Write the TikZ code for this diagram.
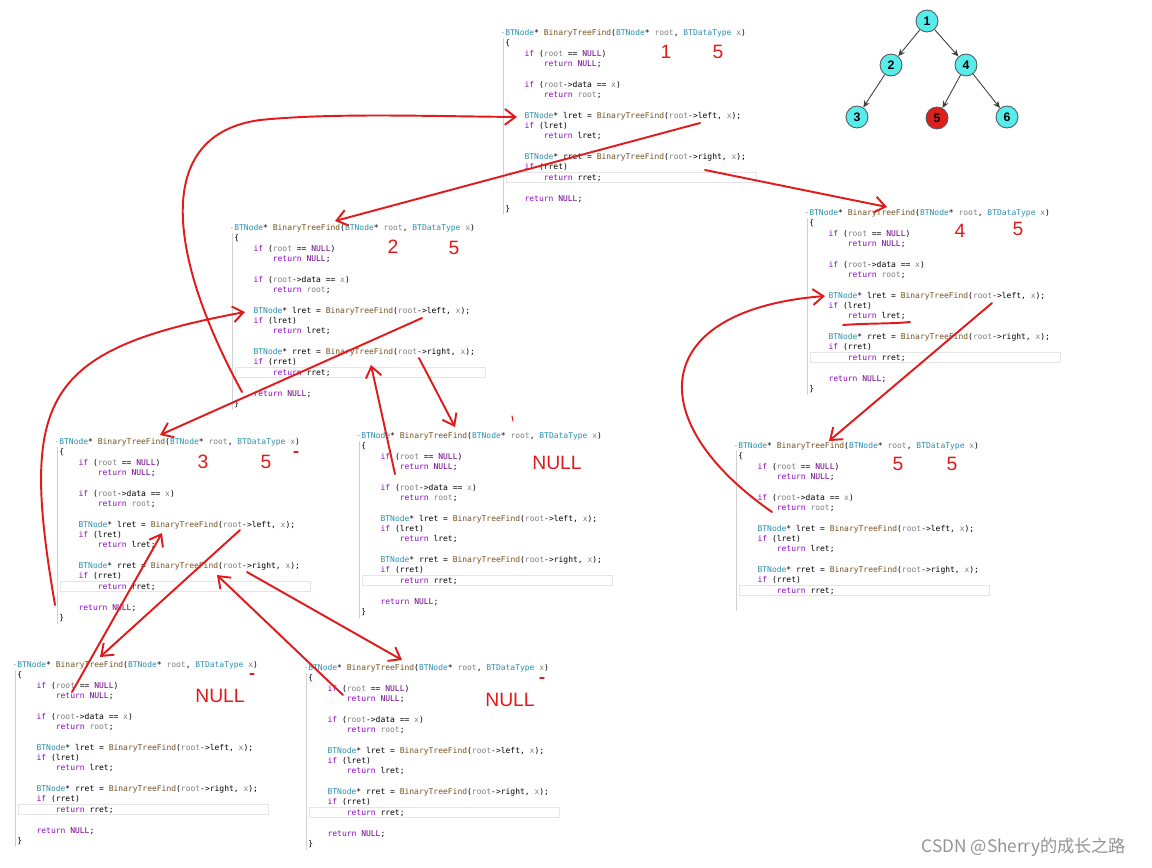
\documentclass[tikz,border=0pt]{standalone}
\usepackage{fontspec}
\usepackage{xcolor}
\usetikzlibrary{arrows.meta,calc}
\newfontfamily\codefont{DejaVu Sans Mono}
\newfontfamily\markfont{Liberation Sans}
\newfontfamily\cjkfont{Noto Sans CJK SC}
\definecolor{typc}{RGB}{43,145,175}
\definecolor{fnc}{RGB}{116,83,31}
\definecolor{kwc}{RGB}{143,8,196}
\definecolor{nulc}{RGB}{111,0,138}
\definecolor{parc}{RGB}{128,128,128}
\definecolor{pen}{RGB}{226,26,28}
\definecolor{tcyan}{RGB}{86,236,236}
\definecolor{tred}{RGB}{225,30,30}
\newcommand{\cty}[1]{\textcolor{typc}{#1}}
\newcommand{\cfn}[1]{\textcolor{fnc}{#1}}
\newcommand{\ckw}[1]{\textcolor{kwc}{#1}}
\newcommand{\cnu}[1]{\textcolor{nulc}{#1}}
\newcommand{\cpa}[1]{\textcolor{parc}{#1}}
\newcommand{\ind}{\phantom{xxxx}}
% the function body, once without its tail
\newcommand{\findtop}{%
\llap{\textcolor{black!40}{-}}\cty{BTNode}* \cfn{BinaryTreeFind}(\cty{BTNode}* \cpa{root}, \cty{BTDataType} \cpa{x})\\
\{\\
\ind\ckw{if} (\cpa{root} == \cnu{NULL})\\
\ind\ind\ckw{return} \cnu{NULL};\\
\mbox{}\\
\ind\ckw{if} (\cpa{root}->data == \cpa{x})\\
\ind\ind\ckw{return} \cpa{root};\\
\mbox{}\\
\ind\cty{BTNode}* lret = \cfn{BinaryTreeFind}(\cpa{root}->left, \cpa{x});\\
\ind\ckw{if} (lret)\\
\ind\ind\ckw{return} lret;\\
\mbox{}\\
\ind\cty{BTNode}* rret = \cfn{BinaryTreeFind}(\cpa{root}->right, \cpa{x});\\
\ind\ckw{if} (rret)\\
\ind\ind\ckw{return} rret;}
\newcommand{\findall}{\findtop\\ \mbox{}\\ \ind\ckw{return} \cnu{NULL};\\ \}}

\begin{document}
\begin{tikzpicture}[x=0.02cm,y=-0.02cm,
  codebox/.style={anchor=north west,inner sep=0pt,align=left,font=\codefont\fontsize{4.55}{5.89}\selectfont},
  guide/.style={draw=black!18,line width=0.4pt},
  curline/.style={draw=black!10,line width=0.4pt},
  tnode/.style={circle,draw=black!65,line width=0.5pt,fill=tcyan,minimum size=12.5pt,inner sep=0pt,font=\markfont\bfseries\fontsize{7}{8}\selectfont},
  tedge/.style={draw=black!75,line width=0.5pt,-{Stealth[length=4pt,width=3.5pt]}},
  redlbl/.style={text=pen,font=\markfont\fontsize{11}{13}\selectfont,inner sep=0pt},
  redarr/.style={draw=pen,line width=1.1pt,line cap=round,-{Straight Barb[length=6pt,width=9pt]}},
  redline/.style={draw=pen,line width=1.1pt,line cap=round}]
\useasboundingbox (0,0) rectangle (1152,867);
\fill[white] (0,0) rectangle (1152,867);

% code blocks
\node[codebox] (b1) at (505,29) {\findall};
\draw[guide] ($(b1.north west)+(-2,9)$) -- ($(b1.south west)+(-2,2)$);
\draw[curline] ($(b1.north west)+(1,143)$) rectangle ++(250,10);
\node[codebox] (b2) at (234,224) {\findall};
\draw[guide] ($(b2.north west)+(-2,9)$) -- ($(b2.south west)+(-2,2)$);
\draw[curline] ($(b2.north west)+(1,143)$) rectangle ++(250,10);
\node[codebox] (b3) at (809,209) {\findall};
\draw[guide] ($(b3.north west)+(-2,9)$) -- ($(b3.south west)+(-2,2)$);
\draw[curline] ($(b3.north west)+(1,143)$) rectangle ++(250,10);
\node[codebox] (b4) at (59,438) {\findall};
\draw[guide] ($(b4.north west)+(-2,9)$) -- ($(b4.south west)+(-2,2)$);
\draw[curline] ($(b4.north west)+(1,143)$) rectangle ++(250,10);
\node[codebox] (b5) at (361,432) {\findall};
\draw[guide] ($(b5.north west)+(-2,9)$) -- ($(b5.south west)+(-2,2)$);
\draw[curline] ($(b5.north west)+(1,143)$) rectangle ++(250,10);
\node[codebox] (b6) at (738,442) {\findtop};
\draw[guide] ($(b6.north west)+(-2,9)$) -- ($(b6.south west)+(-2,16)$);
\draw[curline] ($(b6.north west)+(1,143)$) rectangle ++(250,10);
\node[codebox] (b7) at (17,661) {\findall};
\draw[guide] ($(b7.north west)+(-2,9)$) -- ($(b7.south west)+(-2,2)$);
\draw[curline] ($(b7.north west)+(1,143)$) rectangle ++(250,10);
\node[codebox] (b8) at (308,664) {\findall};
\draw[guide] ($(b8.north west)+(-2,9)$) -- ($(b8.south west)+(-2,2)$);
\draw[curline] ($(b8.north west)+(1,143)$) rectangle ++(250,10);

% the tree
\node[tnode] (t1) at (927,21) {1};
\node[tnode] (t2) at (891,65) {2};
\node[tnode] (t4) at (966,65) {4};
\node[tnode] (t3) at (857,117) {3};
\node[tnode,fill=tred] (t5) at (937,118) {5};
\node[tnode] (t6) at (1007,117) {6};
\draw[tedge] (t1) -- (t2);
\draw[tedge] (t1) -- (t4);
\draw[tedge] (t2) -- (t3);
\draw[tedge] (t4) -- (t5);
\draw[tedge] (t4) -- (t6);

% red notes
\node[redlbl] (n1a) at (666,52) {1};
\node[redlbl] (n1b) at (718,52) {5};
\node[redlbl] (n2a) at (393,247) {2};
\node[redlbl] (n2b) at (454,248) {5};
\node[redlbl] (n3a) at (960,231) {4};
\node[redlbl] (n3b) at (1018,229) {5};
\node[redlbl] (n4a) at (203,462) {3};
\node[redlbl] (n4b) at (266,462) {5};
\node[redlbl] (n5) at (557,463) {NULL};
\node[redlbl] (n6a) at (898,464) {5};
\node[redlbl] (n6b) at (952,464) {5};
\node[redlbl] (n7) at (220,696) {NULL};
\node[redlbl] (n8) at (510,700) {NULL};

% ends of the strokes
\coordinate (b1lret) at (517,117);
\coordinate (b1left) at (700,123);
\coordinate (b1right) at (705,170);
\coordinate (b2head) at (335,221);
\coordinate (b2lret) at (245,312);
\coordinate (b2left) at (422,318);
\coordinate (b2right) at (419,358);
\coordinate (b2rret) at (371,365);
\coordinate (b2end) at (242,392);
\coordinate (b3head) at (887,207);
\coordinate (b3lret) at (825,296);
\coordinate (b3left) at (992,303);
\coordinate (b4head) at (160,435);
\coordinate (b4left) at (240,530);
\coordinate (b4lret) at (162,533);
\coordinate (b4right) at (247,572);
\coordinate (b4rret) at (217,575);
\coordinate (b4end) at (55,605);
\coordinate (b5head) at (455,427);
\coordinate (b5null) at (395,474);
\coordinate (b6head) at (829,441);
\coordinate (b6root) at (772,512);
\coordinate (b7head) at (100,657);
\coordinate (b7null) at (72,692);
\coordinate (b8head) at (402,660);
\coordinate (b8null) at (343,695);

\draw[redarr] (b2end) .. controls (170,260) and (150,135) .. (260,120) .. controls (330,113) and (420,116) .. (b1lret);
\draw[redarr] (b1left) -- (b2head);
\draw[redarr] (b1right) -- (b3head);
\draw[redarr] (b2left) -- (b4head);
\draw[redarr] (b4end) .. controls (20,400) and (40,350) .. (b2lret);
\draw[redarr] (b2right) -- (b5head);
\draw[redarr] (b5null) -- (b2rret);
\draw[redarr] (b4left) -- (b7head);
\draw[redarr] (b7null) -- (b4lret);
\draw[redarr] (b4right) -- (b8head);
\draw[redarr] (b8null) -- (b4rret);
\draw[redarr] (b3left) -- (b6head);
\draw[redarr] (b6root) .. controls (640,420) and (650,310) .. (b3lret);
\draw[redline] (843,325) .. controls (870,323) and (890,324) .. (910,322);
\draw[redline,line width=0.6pt] (512,416) -- (513,421);
\draw[redline,line width=0.6pt] (294,452) -- (298,452);
\draw[redline,line width=0.6pt] (250,674) -- (254,674);
\draw[redline,line width=0.6pt] (540,678) -- (544,678);

\node[text=black!42,font=\cjkfont\fontsize{9.8}{11}\selectfont,inner sep=0pt] (wmk) at (1024,847) {CSDN @Sherry的成长之路};
\end{tikzpicture}
\end{document}
